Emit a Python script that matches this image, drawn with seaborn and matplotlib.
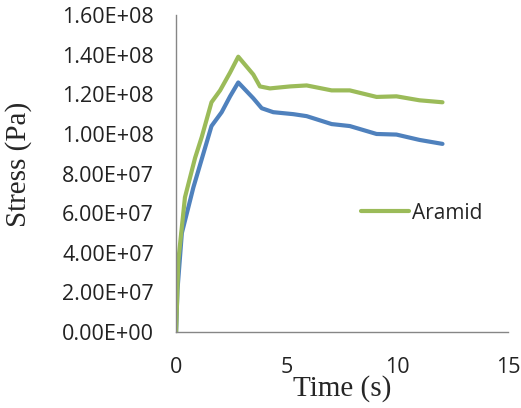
import pandas as pd
import matplotlib
matplotlib.use('Agg')
import matplotlib.pyplot as plt
import seaborn as sns

# Valores
time_green = [0, 0.1, 0.4, 0.86, 1.16, 1.6, 1.99, 2.44, 2.81, 3.49, 3.79, 4.24, 5.15, 5.9, 7.03, 7.85, 9.06, 9.96, 11.0, 12.04]
stress_green = [0, 3.6e7, 6.8e7, 8.8e7, 9.85e7, 11.6e7, 12.2e7, 13.1e7, 13.9e7, 13.0e7, 12.4e7, 12.3e7, 12.4e7, 12.45e7, 12.2e7, 12.2e7, 11.87e7, 11.9e7, 11.7e7, 11.6e7]

time_blue = [0, 0.06, 0.26, 0.78, 1.23, 1.6, 2.06, 2.44, 2.81, 3.49, 3.87, 4.39, 5.3, 5.9, 7.03, 7.85, 9.06, 9.96, 11.0, 12.04]
stress_blue = [0, 2.1e7, 5.0e7, 7.3e7, 9.0e7, 10.4e7, 11.1e7, 11.9e7, 12.6e7, 11.8e7, 11.3e7, 11.1e7, 11.0e7, 10.9e7, 10.5e7, 10.4e7, 10.0e7, 9.97e7, 9.7e7, 9.5e7]

y_ticks = [0, 2e7, 4e7, 6e7, 8e7, 1e8, 1.2e8, 1.4e8, 1.6e8]
y_tick_labels = ['0.00E+00', '2.00E+07', '4.00E+07', '6.00E+07', '8.00E+07',
                 '1.00E+08', '1.20E+08', '1.40E+08', '1.60E+08']
x_ticks = [0, 5, 10, 15]

df_green = pd.DataFrame({'time': time_green, 'stress': stress_green})
df_blue = pd.DataFrame({'time': time_blue, 'stress': stress_blue})

sns.set_style('white')
plt.rcParams['font.family'] = ['Open Sans', 'DejaVu Sans']

fig = plt.figure(figsize=(5.21, 4.08), dpi=100)
ax = fig.add_axes([0.338, 0.186, 0.637, 0.777])

sns.lineplot(data=df_blue, x='time', y='stress', ax=ax, color='#4F81BD',
             linewidth=3, label='_nolegend_', sort=False)
sns.lineplot(data=df_green, x='time', y='stress', ax=ax, color='#9BBB59',
             linewidth=3, label='Aramid', sort=False)

ax.set_xlim(0, 15)
ax.set_ylim(0, 1.6e8)
ax.set_xticks(x_ticks)
ax.set_xticklabels([str(t) for t in x_ticks])
ax.set_yticks(y_ticks)
ax.set_yticklabels(y_tick_labels)

for s in ['top', 'right']:
    ax.spines[s].set_visible(False)
for s in ['left', 'bottom']:
    ax.spines[s].set_color('#868686')
    ax.spines[s].set_linewidth(1)

ax.tick_params(axis='both', which='major', direction='out', length=6,
               color='#868686', labelsize=15.5, labelcolor='#222222')
ax.tick_params(axis='y', pad=10)
ax.tick_params(axis='x', pad=12)

ax.set_xlabel('Time (s)', family='Liberation Serif', fontsize=21)
ax.set_ylabel('Stress (Pa)', family='Liberation Serif', fontsize=21)
ax.xaxis.set_label_coords(0.5, -0.135)
ax.yaxis.set_label_coords(-0.434, 0.53)

leg = ax.legend(loc='center left', bbox_to_anchor=(0.50, 0.375), frameon=False,
                fontsize=15, handlelength=2.3, handletextpad=0.15)

plt.savefig('out.png', dpi=100)
